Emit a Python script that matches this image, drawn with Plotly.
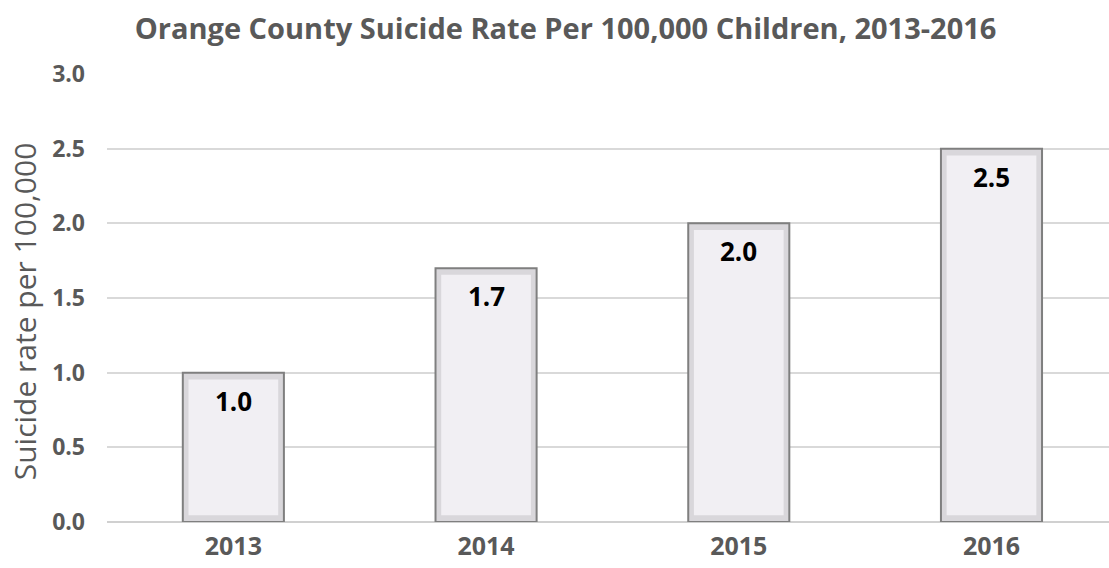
import plotly.graph_objects as go

years = ["2013", "2014", "2015", "2016"]
rates = [1.0, 1.7, 2.0, 2.5]
labels = ["1.0", "1.7", "2.0", "2.5"]
y_ticks = [0, 0.5, 1.0, 1.5, 2.0, 2.5, 3.0]
y_tick_text = ["0.0", "0.5", "1.0", "1.5", "2.0", "2.5", "3.0"]

FONT = "'Open Sans', Lato, sans-serif"
GRAY = "#595959"
BEVEL = 0.045  # bevel thickness in data units (visual frame)

fig = go.Figure()
# outer (bevel frame)
fig.add_trace(go.Bar(
    x=years, y=rates,
    marker=dict(color="#d9d7db", line=dict(color="#7f7f7f", width=2)),
    width=0.4, hoverinfo="skip",
))
# inner lighter face
fig.add_trace(go.Bar(
    x=years, y=[r - 2 * BEVEL for r in rates], base=BEVEL,
    marker=dict(color="#f1eff3", line=dict(width=0)),
    width=0.355, hoverinfo="skip",
))

for i, (r, lab) in enumerate(zip(rates, labels)):
    fig.add_annotation(x=i, y=r, xref="x", yref="y", text=f"<b>{lab}</b>",
                       showarrow=False, yanchor="top", yshift=-8,
                       font=dict(family=FONT, size=26, color="black"))

fig.add_annotation(text="Suicide rate per 100,000", textangle=-90,
                   xref="paper", yref="paper", x=-0.082, y=0.47,
                   xanchor="center", yanchor="middle", showarrow=False,
                   font=dict(family=FONT, size=30, color=GRAY))

fig.update_layout(
    width=1109, height=568,
    margin=dict(l=107, r=0, t=74, b=46),
    paper_bgcolor="white", plot_bgcolor="white",
    title=dict(text="<b>Orange County Suicide Rate Per 100,000 Children, 2013-2016</b>",
               x=0.51, xanchor="center", y=0.95, yanchor="middle",
               font=dict(family=FONT, size=29, color=GRAY)),
    showlegend=False,
    barmode="overlay",
    xaxis=dict(type="category", range=[-0.5, 3.465], showgrid=False, zeroline=False,
               showline=False, ticks="", ticklabelstandoff=7,
               tickfont=dict(family=FONT, size=25, color=GRAY, weight="bold")),
    yaxis=dict(range=[0, 3.0], tickvals=y_ticks, ticktext=y_tick_text,
               showgrid=True, gridcolor="#d9d9d9", gridwidth=1.5,
               zeroline=True, zerolinecolor="#d0d0d0", zerolinewidth=2,
               ticks="", ticklabelstandoff=21,
               tickfont=dict(family=FONT, size=23, color=GRAY, weight="bold")),
)

fig.write_html("out.html")
